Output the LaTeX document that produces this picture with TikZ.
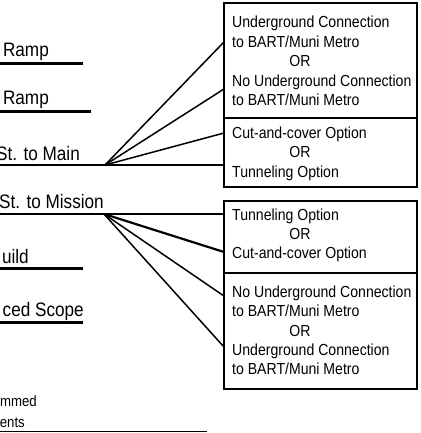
\documentclass[tikz,border=0pt]{standalone}
\usepackage{fontspec}
\setmainfont{Liberation Sans}[FakeStretch=0.88]
\begin{document}
\begin{tikzpicture}[x=1pt,y=-1pt,
  lbl/.style={anchor=base east,inner sep=0pt,font=\fontsize{19.5}{22}\selectfont},
  smalllbl/.style={anchor=base east,inner sep=0pt,font=\fontsize{15}{17}\selectfont},
  boxtxt/.style={anchor=base west,inner sep=0pt,font=\fontsize{16}{18}\selectfont},
  ortxt/.style={anchor=base,inner sep=0pt,font=\fontsize{16}{18}\selectfont},
  optbox/.style={draw,line width=1.7pt,minimum width=193pt,inner sep=0pt},
  uline/.style={line width=2.5pt},
  fan/.style={line width=1.5pt}]
\useasboundingbox (0,0) rectangle (420,433);
% left labels
\node[lbl] (r1) at (49,57) {Ramp};
\node[lbl] (r2) at (49,104) {Ramp};
\node[lbl] (m1) at (80,160.5) {St. to Main};
\node[lbl] (m2) at (104,208.5) {St. to Mission};
\node[lbl] (b1) at (29,263) {uild};
\node[lbl] (b2) at (84,316) {ced Scope};
\node[smalllbl] (p1) at (37,406.5) {mmed};
\node[smalllbl] (p2) at (25,427) {ents};
% underlines
\draw[uline] (0,63.5) -- (83,63.5);
\draw[uline] (0,111.5) -- (91,111.5);
\draw[uline] (0,268.5) -- (83,268.5);
\draw[uline] (0,322.5) -- (83,322.5);
\draw[line width=1.2pt] (0,431.5) -- (207,431.5);
% boxes
\node[optbox,minimum height=115pt] (b1u) at (320.5,60.5) {};
\node[optbox,minimum height=69pt] (b1l) at (320.5,152.5) {};
\node[optbox,minimum height=72pt] (b2u) at (320.5,237) {};
\node[optbox,minimum height=116pt] (b2l) at (320.5,331) {};
% box texts
\node[boxtxt] (t11) at (232,28) {Underground Connection};
\node[boxtxt] (t12) at (232,47.5) {to BART/Muni Metro};
\node[ortxt]  (t13) at (300,67) {OR};
\node[boxtxt] (t14) at (232,86.5) {No Underground Connection};
\node[boxtxt] (t15) at (232,106) {to BART/Muni Metro};
\node[boxtxt] (t21) at (232,138) {Cut-and-cover Option};
\node[ortxt]  (t22) at (300,157.5) {OR};
\node[boxtxt] (t23) at (232,177) {Tunneling Option};
\node[boxtxt] (t31) at (232,220) {Tunneling Option};
\node[ortxt]  (t32) at (300,239) {OR};
\node[boxtxt] (t33) at (232,258) {Cut-and-cover Option};
\node[boxtxt] (t41) at (232,297) {No Underground Connection};
\node[boxtxt] (t42) at (232,316.5) {to BART/Muni Metro};
\node[ortxt]  (t43) at (300,336) {OR};
\node[boxtxt] (t44) at (232,355) {Underground Connection};
\node[boxtxt] (t45) at (232,374.5) {to BART/Muni Metro};
% fan coordinates
\coordinate (s0) at (0,165);
\coordinate (A) at (105,165);
\coordinate (e1) at (224,42);
\coordinate (e2) at (224,89);
\coordinate (e3) at (224,133);
\coordinate (e4) at (224,165);
\coordinate (s1) at (0,214);
\coordinate (B) at (104,214);
\coordinate (f1) at (224,214);
\coordinate (f2) at (224,252);
\coordinate (f3) at (224,296);
\coordinate (f4) at (224,347);
\draw[uline] (s0) -- (e4);
\draw[fan] (A) -- (e1);
\draw[fan] (A) -- (e2);
\draw[fan] (A) -- (e3);
\draw[uline] (s1) -- (f1);
\draw[line width=2.2pt] (B) -- (f2);
\draw[fan] (B) -- (f3);
\draw[fan] (B) -- (f4);
\end{tikzpicture}
\end{document}
